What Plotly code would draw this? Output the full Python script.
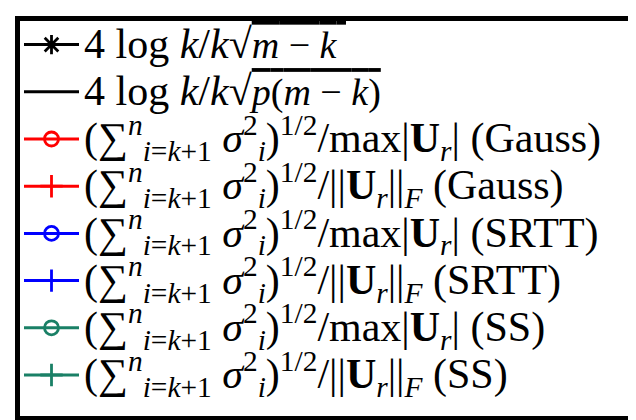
import plotly.graph_objects as go

BIG = "<span style='font-size:42px'>"
OV = "<span style='text-decoration:overline;font-size:38px'>"
SUM = "(∑<sup><i>n</i></sup><sub><i>i</i>=<i>k</i>+1</sub> <i>σ</i><sup>2</sup><sub><i>i</i></sub>)<sup>1/2</sup>"
labels = [
    BIG + "4 log <i>k</i>/<i>k</i>√</span>" + OV + "<i>m</i> − <i>k</i> </span>",
    BIG + "4 log <i>k</i>/<i>k</i>√</span>" + OV + "<i>p</i>(<i>m</i> − <i>k</i>)</span>",
    BIG + SUM + "/max|<b>U</b><sub><i>r</i></sub>| (Gauss)</span>",
    BIG + SUM + "/||<b>U</b><sub><i>r</i></sub>||<sub><i>F</i></sub> (Gauss)</span>",
    BIG + SUM + "/max|<b>U</b><sub><i>r</i></sub>| (SRTT)</span>",
    BIG + SUM + "/||<b>U</b><sub><i>r</i></sub>||<sub><i>F</i></sub> (SRTT)</span>",
    BIG + SUM + "/max|<b>U</b><sub><i>r</i></sub>| (SS)</span>",
    BIG + SUM + "/||<b>U</b><sub><i>r</i></sub>||<sub><i>F</i></sub> (SS)</span>",
]
colors = ["#000000", "#000000", "#ff0000", "#ff0000", "#0000ff", "#0000ff", "#1a8066", "#1a8066"]
symbols = ["asterisk-open", None, "circle-open", "cross-thin-open",
           "circle-open", "cross-thin-open", "circle-open", "cross-thin-open"]
sizes = [16, 12, 14, 19, 14, 19, 14, 19]

fig = go.Figure()
for i, (lab, col, sym, sz) in enumerate(zip(labels, colors, symbols, sizes)):
    mode = "lines+markers" if sym else "lines"
    fig.add_trace(go.Scatter(
        x=[None], y=[None], name=lab,
        mode=mode, legendgroup=f"g{i}",
        line=dict(color=col, width=3),
        marker=dict(symbol=sym or "circle", size=sz, color=col,
                    line=dict(color=col, width=2.8)),
    ))

fig.add_shape(type="rect", xref="paper", yref="paper",
              x0=9.5 / 636, x1=627 / 636, y0=1 - 410.5 / 420, y1=1 - 10.5 / 420,
              line=dict(color="black", width=5), fillcolor="rgba(0,0,0,0)")

fig.update_layout(
    width=636, height=420, margin=dict(l=0, r=0, t=0, b=0),
    paper_bgcolor="white", plot_bgcolor="white",
    xaxis=dict(visible=False), yaxis=dict(visible=False),
    showlegend=True,
    legend=dict(x=11 / 636, y=1 - 8 / 420, xanchor="left", yanchor="top",
                bgcolor="rgba(0,0,0,0)", borderwidth=0,
                font=dict(family="Liberation Serif", size=34, color="black"),
                itemwidth=55, tracegroupgap=0, traceorder="normal"),
)
fig.write_html("out.html")
